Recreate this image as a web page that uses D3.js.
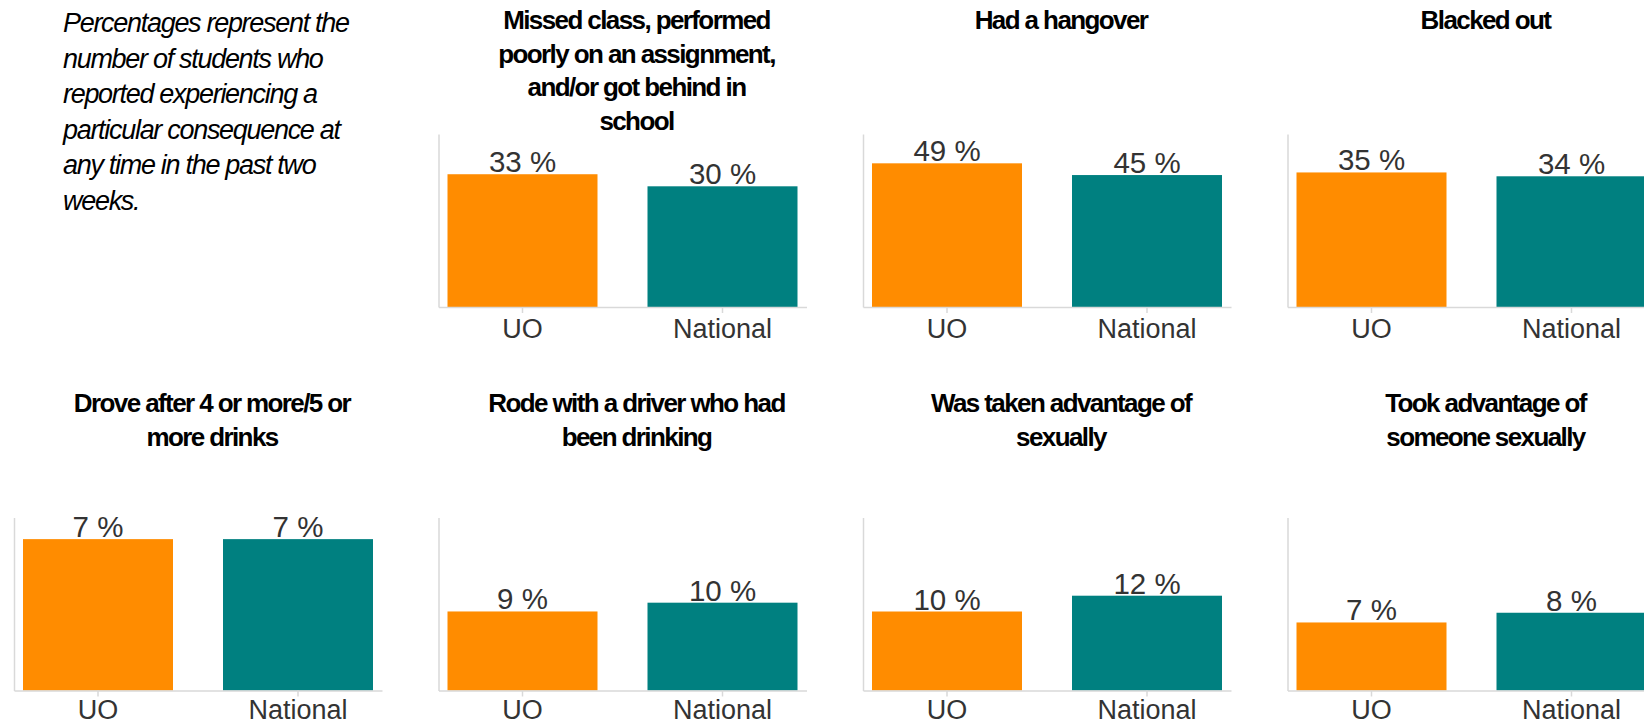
<!DOCTYPE html>
<html>
<head>
<meta charset="utf-8">
<script src="https://cdn.jsdelivr.net/npm/d3@7"></script>
<style>
  html, body { margin: 0; padding: 0; background: #fff; }
  svg { display: block; font-family: "Liberation Sans", Arial, sans-serif; }
  .axis path, .axis line { stroke: #d9d9d9; stroke-width: 1.5px; }
  .axis text { fill: #333; font-size: 27px; }
  .title { font-weight: bold; font-size: 26px; letter-spacing: -1.6px; fill: #000; }
  .intro { font-style: italic; font-size: 27px; letter-spacing: -1.3px; fill: #000; }
  .val { font-size: 29.5px; fill: #333; }
</style>
</head>
<body>
<svg id="chart" width="1644" height="726"></svg>
<script>
// ---- data ----
const groups = ["UO", "National"];
const titles = [
  ["Missed class, performed", "poorly on an assignment,", "and/or got behind in", "school"],
  ["Had a hangover"],
  ["Blacked out"],
  ["Drove after 4 or more/5 or", "more drinks"],
  ["Rode with a driver who had", "been drinking"],
  ["Was taken advantage of", "sexually"],
  ["Took advantage of", "someone sexually"]
];
const uoValues       = [33, 49, 35, 7, 9, 10, 7];
const nationalValues = [30, 45, 34, 7, 10, 12, 8];
const yMax           = [43, 59, 45, 8, 19.7, 21.9, 17.8];
const introLines = [
  "Percentages represent the",
  "number of students who",
  "reported experiencing a",
  "particular consequence at",
  "any time in the past two",
  "weeks."
];
const colors = ["#FF8C00", "#008080"];

// ---- layout ----
const svg = d3.select("#chart");
const slotW = 424.5, axisX0 = 14, plotW = 368, plotH = 173;
const rowTop = [134, 517.5];
const titleTop = [29, 412];
const tickPad = [6, 3.5];
// panel i -> row/column slot
const slots = [[0,1],[0,2],[0,3],[1,0],[1,1],[1,2],[1,3]];

// intro text
const intro = svg.append("text").attr("class", "intro");
introLines.forEach((l, i) => {
  intro.append("tspan").attr("x", 63).attr("y", 32 + i * 35.5).text(l);
});

const x = d3.scaleBand().domain(groups).range([0, plotW]).paddingInner(0.25).paddingOuter(0.045);

titles.forEach((t, i) => {
  const [row, col] = slots[i];
  const ax = axisX0 + col * slotW;
  const g = svg.append("g").attr("transform", `translate(${ax},${rowTop[row]})`);
  const y = d3.scaleLinear().domain([0, yMax[i]]).range([plotH, 0]);
  const vals = [uoValues[i], nationalValues[i]];

  // title
  const tt = svg.append("text").attr("class", "title").attr("text-anchor", "middle");
  t.forEach((line, j) => {
    tt.append("tspan").attr("x", ax + 198).attr("y", titleTop[row] + j * 33.5).text(line);
  });

  // bars
  g.selectAll("rect.bar").data(vals).join("rect")
    .attr("class", "bar")
    .attr("x", (d, k) => x(groups[k]))
    .attr("width", x.bandwidth())
    .attr("y", d => y(d))
    .attr("height", d => plotH - y(d))
    .attr("fill", (d, k) => colors[k]);

  // value labels
  g.selectAll("text.val").data(vals).join("text")
    .attr("class", "val")
    .attr("text-anchor", "middle")
    .attr("x", (d, k) => x(groups[k]) + x.bandwidth() / 2)
    .attr("y", d => y(d) - 2)
    .text(d => d + " %");

  // axes
  g.append("g").attr("class", "axis")
    .call(d3.axisLeft(y).tickValues([]).tickSizeOuter(0));
  const xa = g.append("g").attr("class", "axis")
    .attr("transform", `translate(0,${plotH})`)
    .call(d3.axisBottom(x).tickSize(6).tickSizeOuter(0).tickPadding(tickPad[row]));
  xa.attr("font-size", null).attr("font-family", null);
});
</script>
</body>
</html>
